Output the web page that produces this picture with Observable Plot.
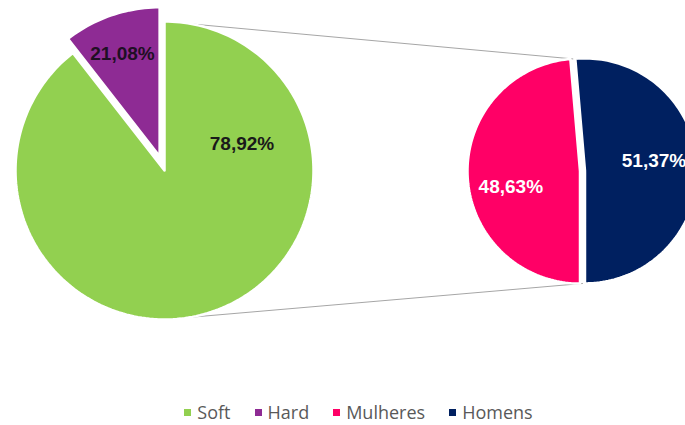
<!DOCTYPE html>
<html>
<head>
<meta charset="utf-8">
<script src="https://cdn.jsdelivr.net/npm/d3@7"></script>
<script src="https://cdn.jsdelivr.net/npm/@observablehq/plot@0.6"></script>
<style>
  html, body { margin: 0; padding: 0; background: #fff; overflow: hidden; }
  #chart svg { display: block; }
  #legend { height: 25px; line-height: 25px; display: flex; justify-content: center; gap: 24px;
            font-family: "Open Sans", sans-serif; font-size: 18px; color: #595959; padding-left: 32px; }
  #legend .item { display: flex; align-items: center; }
  #legend .sw { width: 7px; height: 7px; margin-right: 6px; display: inline-block; }
</style>
</head>
<body>
<div id="chart"></div>
<div id="legend"></div>
<script>
// ---- data ----
const categories = ["Soft", "Hard", "Mulheres", "Homens"];
const primaryValues = [78.92, 21.08];      // Soft, Hard
const secondaryValues = [48.63, 51.37];    // Mulheres, Homens
const labels = ["78,92%", "21,08%", "48,63%", "51,37%"];
const colors = ["#92D050", "#8E2B94", "#FF0066", "#002060"];

// ---- layout ----
const W = 685, H = 400;
const main = {cx: 164, cy: 170, r: 149};
const sec = {cx: 582, cy: 170.5, r: 112.5};

const rad = a => a * Math.PI / 180;
const pt = (c, r, a) => ({x: c.cx + r * Math.sin(rad(a)), y: c.cy - r * Math.cos(rad(a))});
function wedge(c, r, a0, a1, off) {
  const mid = (a0 + a1) / 2;
  const cc = {cx: c.cx + off * Math.sin(rad(mid)), cy: c.cy - off * Math.cos(rad(mid))};
  const pts = [{x: cc.cx, y: cc.cy}];
  const n = Math.max(8, Math.ceil(Math.abs(a1 - a0) / 1.5));
  for (let i = 0; i <= n; i++) pts.push(pt(cc, r, a0 + (a1 - a0) * i / n));
  pts.push({x: cc.cx, y: cc.cy});
  return {pts, cc, mid};
}

// main pie: Soft + "other" (= secondary total) + Hard
const otherValue = d3.sum(secondaryValues);
const mainTotal = d3.sum(primaryValues) + otherValue;
const softAng = primaryValues[0] / mainTotal * 360;
const hardAng = primaryValues[1] / mainTotal * 360;
const green = wedge(main, main.r, 0, 360 - hardAng, 0);
const hard = wedge(main, main.r, 360 - hardAng, 360, 15);

// secondary pie
const secTotal = d3.sum(secondaryValues);
const homAng = secondaryValues[1] / secTotal * 360;
const homStart = 180 - homAng;
const hom = wedge(sec, sec.r, homStart, 180, 2.5);
const mul = wedge(sec, sec.r, 180, 360 + homStart, 2.5);

// connector lines
const connectors = [
  {id: "top", ...pt(main, main.r, 0)}, {id: "top", ...pt(sec, sec.r, homStart)},
  {id: "bot", ...pt(main, main.r, 180)}, {id: "bot", ...pt(sec, sec.r, 180)}
];

// labels
const softMid = softAng / 2;
const labelData = [
  {...pt(main, main.r * 0.55, softMid), t: labels[0], c: "#1a1a1a"},
  {...pt(hard.cc, main.r * 0.73, hard.mid - 1), t: labels[1], c: "#1f0f24"},
  {...pt(mul.cc, sec.r * 0.63, mul.mid - 10), t: labels[2], c: "#ffffff"},
  {...pt(hom.cc, sec.r * 0.62, hom.mid - 6), t: labels[3], c: "#ffffff"}
];

const sliceMark = (w, color) => Plot.line(w.pts, {x: "x", y: "y", fill: color, stroke: "white", strokeWidth: 2.5});

const chart = Plot.plot({
  width: W, height: H, margin: 0,
  x: {domain: [0, W], range: [0, W], axis: null},
  y: {domain: [0, H], range: [0, H], axis: null},
  style: {fontFamily: "Liberation Sans, Arial, sans-serif", background: "white"},
  marks: [
    Plot.line(connectors, {x: "x", y: "y", z: "id", stroke: "#a6a6a6", strokeWidth: 1}),
    sliceMark(green, colors[0]),
    sliceMark(hard, colors[1]),
    sliceMark(mul, colors[2]),
    sliceMark(hom, colors[3]),
    Plot.text(labelData, {x: "x", y: "y", text: "t", fill: "c", fontSize: 19, fontWeight: "bold"})
  ]
});
document.getElementById("chart").append(chart);

const legend = document.getElementById("legend");
categories.forEach((c, i) => {
  const it = document.createElement("span");
  it.className = "item";
  it.innerHTML = `<span class="sw" style="background:${colors[i]}"></span>${c}`;
  legend.append(it);
});
</script>
</body>
</html>
